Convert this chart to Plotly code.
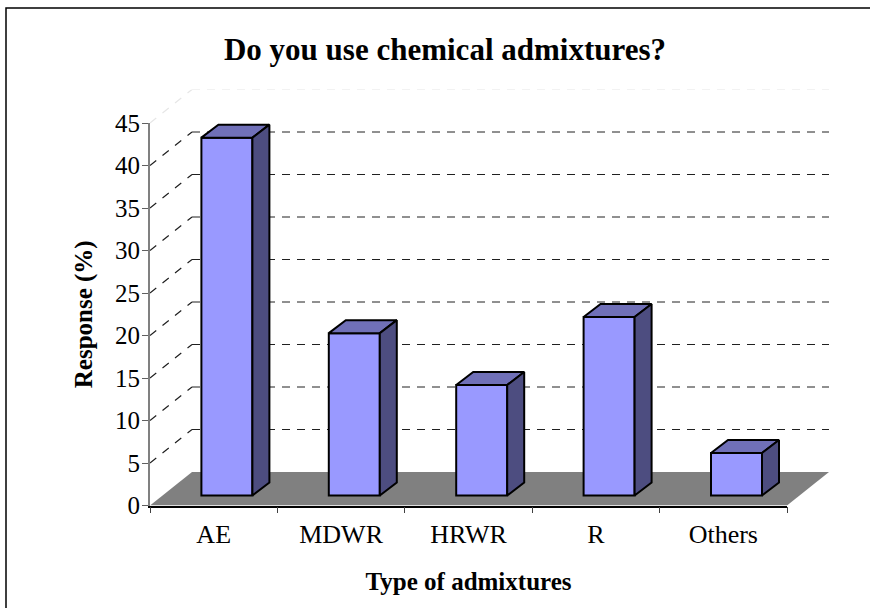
import plotly.graph_objects as go

categories = ["AE", "MDWR", "HRWR", "R", "Others"]
values = [42.1, 19.1, 13.0, 21.0, 5.0]
y_ticks = list(range(0, 50, 5))

W, H = 870, 608
PX_L, PX_R, PX_T, PX_B = 150, 787, 123, 505.5
ux = (PX_R - PX_L) / 5
uy = (PX_B - PX_T) / 45

# 3-D projection offsets (pixels converted to axis units)
wall_dx, wall_dy = 42 / ux, 33.5 / uy
front_dx, front_dy = 13.2 / ux, 10 / uy
bar_w = 51 / ux
bar_dx, bar_dy = 17 / ux, 13 / uy

fig = go.Figure()

# floor
fig.add_trace(go.Scatter(
    x=[0, 5, 5 + wall_dx, wall_dx, 0], y=[0, 0, wall_dy, wall_dy, 0],
    mode="lines", fill="toself", fillcolor="#808080", line=dict(width=0),
    hoverinfo="skip", showlegend=False, xaxis="x", yaxis="y"))

# gridlines on the back wall and left wall
for v in y_ticks[1:]:
    col = "#e6e6e6" if v == 45 else "#202020"
    fig.add_trace(go.Scatter(
        x=[0, wall_dx], y=[v, v + wall_dy], mode="lines",
        line=dict(color=col, width=1.2, dash="8px,8px"),
        hoverinfo="skip", showlegend=False, xaxis="x", yaxis="y"))
    fig.add_trace(go.Scatter(
        x=[wall_dx, 5 + wall_dx], y=[v + wall_dy, v + wall_dy], mode="lines",
        line=dict(color=col, width=1, dash="8px,7px"),
        hoverinfo="skip", showlegend=False, xaxis="x", yaxis="y"))

# front faces
centers = [i + 0.5 + front_dx for i in range(len(categories))]
fig.add_trace(go.Bar(
    x=centers, y=values, base=[front_dy] * len(values), width=bar_w,
    marker=dict(color="#9999ff", line=dict(color="#000000", width=2)),
    showlegend=False, xaxis="x2", yaxis="y2"))

# tops and sides
for c, v in zip(centers, values):
    l, r = c - bar_w / 2, c + bar_w / 2
    b, t = front_dy, front_dy + v
    fig.add_trace(go.Scatter(
        x=[l, r, r + bar_dx, l + bar_dx, l], y=[t, t, t + bar_dy, t + bar_dy, t],
        mode="lines", fill="toself", fillcolor="#7070b8",
        line=dict(color="#000000", width=2), hoverinfo="skip", showlegend=False,
        xaxis="x2", yaxis="y2"))
    fig.add_trace(go.Scatter(
        x=[r, r + bar_dx, r + bar_dx, r, r], y=[b, b + bar_dy, t + bar_dy, t, b],
        mode="lines", fill="toself", fillcolor="#4d4d80",
        line=dict(color="#000000", width=2), hoverinfo="skip", showlegend=False,
        xaxis="x2", yaxis="y2"))

# carrier for the visible axes
fig.add_trace(go.Scatter(
    x=categories, y=values, mode="markers", marker=dict(opacity=0),
    hoverinfo="skip", showlegend=False, xaxis="x3", yaxis="y3"))

ax_dom_x = [PX_L / W, PX_R / W]
ax_dom_y = [(H - PX_B) / H, (H - PX_T) / H]
big_dom_x = [PX_L / W, (PX_R + wall_dx * ux) / W]
big_dom_y = [(H - PX_B) / H, (H - PX_T + wall_dy * uy) / H]
big_rx = [0, 5 + wall_dx]
big_ry = [0, 45 + wall_dy]

fig.update_layout(
    width=W, height=H, margin=dict(l=0, r=0, t=0, b=0),
    paper_bgcolor="#ffffff", plot_bgcolor="rgba(0,0,0,0)",
    showlegend=False, barmode="overlay",
    font=dict(family="Liberation Serif", size=25, color="#000000"),
    xaxis=dict(domain=big_dom_x, range=big_rx, visible=False),
    yaxis=dict(domain=big_dom_y, range=big_ry, visible=False),
    xaxis2=dict(domain=big_dom_x, range=big_rx, visible=False, overlaying="x"),
    yaxis2=dict(domain=big_dom_y, range=big_ry, visible=False, overlaying="y"),
    yaxis3=dict(domain=ax_dom_y, range=[0, 45], tickvals=y_ticks, ticks="outside",
                ticklen=6, tickcolor="#606060", showgrid=False, zeroline=False,
                showline=True, linecolor="#808080", linewidth=2, anchor="x3",
                tickfont=dict(size=25), ticklabelstandoff=-3, automargin=False,
                title=dict(text="<b>Response (%)</b>", font=dict(size=25))),
    xaxis3=dict(domain=ax_dom_x, type="category",
                categoryorder="array", categoryarray=categories,
                range=[-0.5, 4.5], tickson="boundaries", ticks="outside", ticklen=6,
                tickcolor="#404040", showgrid=False, zeroline=False, anchor="y3",
                showline=True, linecolor="#000000", linewidth=1.5,
                tickfont=dict(size=26), ticklabelstandoff=5, automargin=False,
                title=dict(text="<b>Type of admixtures</b>", font=dict(size=25), standoff=24)),
    title=dict(text="<b>Do you use chemical admixtures?</b>", font=dict(size=31),
               x=445 / W, xanchor="center", y=1 - 49.5 / H, yanchor="middle"),
    shapes=[dict(type="rect", xref="paper", yref="paper",
                 x0=6 / W, x1=1.02, y0=-0.02, y1=1 - 8 / H,
                 line=dict(color="#000000", width=1.5), layer="below")],
)
fig.write_html("out.html", config=dict(displayModeBar=False),
               post_script="document.body.style.margin='0';")
